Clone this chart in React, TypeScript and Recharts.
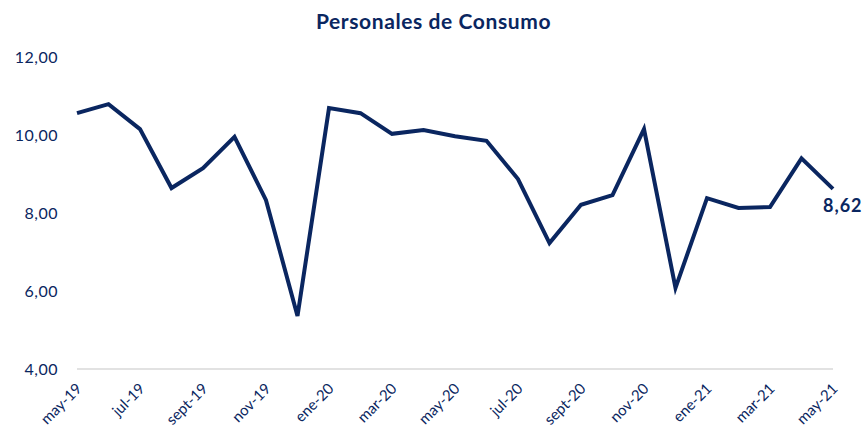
import { CartesianGrid, LabelList, Line, LineChart, XAxis, YAxis } from "recharts";

const months = [
    "may-19", "jun-19", "jul-19", "ago-19", "sept-19", "oct-19", "nov-19", "dic-19",
    "ene-20", "feb-20", "mar-20", "abr-20", "may-20", "jun-20", "jul-20", "ago-20",
    "sept-20", "oct-20", "nov-20", "dic-20", "ene-21", "feb-21", "mar-21", "abr-21", "may-21",
];

const tasa = [
    10.56, 10.79, 10.15, 8.64, 9.15, 9.95, 8.33, 5.36,
    10.69, 10.56, 10.03, 10.13, 9.97, 9.85, 8.87, 7.23,
    8.21, 8.46, 10.15, 6.08, 8.38, 8.13, 8.15, 9.4, 8.62,
];

const yTicks = [4, 6, 8, 10, 12];

const NAVY = "#0a2660";
const FONT = "Lato, 'Open Sans', sans-serif";

const fmt = (v: number) => v.toFixed(2).replace(".", ",");

const chartData = months.map((m, i) => ({ name: m, value: tasa[i] }));

function XTick({ x, y, payload }: any) {
    return (
        <g transform={`translate(${x + 2},${y + 9})`}>
            <text
                textAnchor="end"
                transform="rotate(-45)"
                fill={NAVY}
                fontSize={15}
                fontFamily={FONT}
                dy="0.35em"
            >
                {payload.value}
            </text>
        </g>
    );
}

function LastLabel({ x, y, index, value }: any) {
    if (index !== tasa.length - 1) return null;
    return (
        <text
            x={x - 10}
            y={y + 17}
            dy="0.35em"
            fill={NAVY}
            fontSize={18}
            fontWeight={700}
            letterSpacing={1}
            fontFamily={FONT}
        >
            {fmt(value)}
        </text>
    );
}

export default function App() {
    return (
        <div style={{ position: "absolute", left: 0, top: 0, width: 867, height: 427, background: "#fff" }}>
            <div
                style={{
                    position: "absolute",
                    top: 8,
                    left: 0,
                    width: 867,
                    textAlign: "center",
                    color: NAVY,
                    fontFamily: FONT,
                    fontWeight: 700,
                    fontSize: 21,
                    letterSpacing: 0.6,
                }}
            >
                Personales de Consumo
            </div>
            <LineChart
                width={867}
                height={427}
                data={chartData}
                margin={{ top: 57, right: 34, bottom: 0, left: 0 }}
            >
                <CartesianGrid horizontal={false} vertical={false} />
                <XAxis
                    dataKey="name"
                    interval={1}
                    height={58}
                    tick={<XTick />}
                    tickLine={false}
                    axisLine={{ stroke: "#d9d9d9", strokeWidth: 1.5 }}
                />
                <YAxis
                    domain={[4, 12]}
                    ticks={yTicks}
                    width={77}
                    axisLine={false}
                    tickLine={false}
                    tickSize={0}
                    tickMargin={19}
                    tickFormatter={fmt}
                    tick={{ fill: NAVY, fontSize: 16, fontFamily: FONT, letterSpacing: 0.5 }}
                />
                <Line
                    type="linear"
                    dataKey="value"
                    stroke={NAVY}
                    strokeWidth={4}
                    dot={false}
                    isAnimationActive={false}
                >
                    <LabelList dataKey="value" content={<LastLabel />} />
                </Line>
            </LineChart>
        </div>
    );
}
